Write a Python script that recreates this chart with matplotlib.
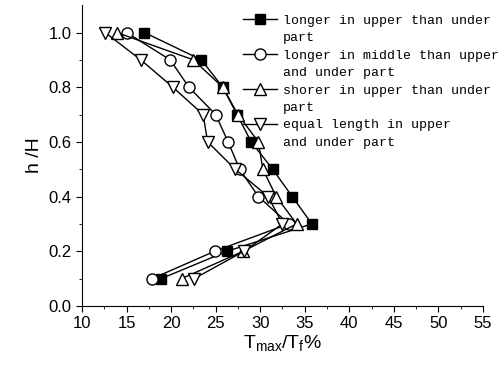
import matplotlib
matplotlib.use("Agg")
import matplotlib.pyplot as plt
from matplotlib.lines import Line2D

# h/H levels and T_max/T_f (%) for each case
h = [1.0, 0.9, 0.8, 0.7, 0.6, 0.5, 0.4, 0.3, 0.2, 0.1]
upper_longer = [17.0, 23.4, 25.8, 27.4, 29.0, 31.4, 33.6, 35.8, 26.3, 18.9]
middle_longer = [15.0, 19.9, 22.0, 25.0, 26.4, 27.7, 29.8, 33.2, 24.9, 17.9]
upper_shorter = [13.9, 22.5, 25.8, 27.5, 29.8, 30.3, 31.8, 34.1, 28.1, 21.2]
equal_length = [12.6, 16.6, 20.2, 23.6, 24.1, 27.2, 30.9, 32.5, 28.2, 22.6]

labels = ["longer in upper than under\npart",
          "longer in middle than upper\nand under part",
          "shorer in upper than under\npart",
          "equal length in upper\nand under part"]

plt.rcParams['font.family'] = ['Liberation Sans', 'DejaVu Sans']
plt.rcParams['mathtext.default'] = 'regular'

fig = plt.figure(figsize=(5.03, 3.69), dpi=100)
ax = fig.add_axes([0.163, 0.171, 0.797, 0.815])

l1, = ax.plot(upper_longer, h, '-s', color='black', mfc='black', ms=7, lw=1)
l2, = ax.plot(middle_longer, h, '-o', color='black', mfc='white', ms=8, lw=1)
l3, = ax.plot(upper_shorter, h, '-^', color='black', mfc='white', ms=8.5, lw=1)
l4, = ax.plot(equal_length, h, '-v', color='black', mfc='white', ms=8.5, lw=1)

ax.set_xlim(10, 55)
ax.set_ylim(0, 1.1)
ax.set_xticks(range(10, 56, 5))
ax.set_xticks([x + 2.5 for x in range(10, 55, 5)], minor=True)
ax.set_yticks([0.0, 0.2, 0.4, 0.6, 0.8, 1.0])
ax.set_yticks([0.1, 0.3, 0.5, 0.7, 0.9], minor=True)
ax.set_yticklabels(['0.0', '0.2', '0.4', '0.6', '0.8', '1.0'])
ax.tick_params(labelsize=12, direction='out', length=4)
ax.tick_params(which='minor', direction='out', length=2.5)
ax.spines['top'].set_visible(False)
ax.spines['right'].set_visible(False)

ax.set_xlabel(r'T$_{max}$/T$_{f}$%', fontsize=14, labelpad=1)
ax.set_ylabel('h /H', fontsize=14, labelpad=4)

# one legend row per text line, marker only on the first line of each entry
blank = Line2D([], [], linestyle='none', marker='none')
handles, texts = [], []
for line, lab in zip([l1, l2, l3, l4], labels):
    rows = lab.split("\n")
    handles.append(line)
    texts.append(rows[0])
    for r in rows[1:]:
        handles.append(blank)
        texts.append(r)

ax.legend(handles, texts, loc='upper left', bbox_to_anchor=(0.483, 0.96),
          bbox_transform=fig.transFigure, frameon=False,
          prop={'family': 'Liberation Mono', 'size': 9.5},
          labelspacing=0.39, handlelength=2.6, handletextpad=0.4,
          borderpad=0.0, borderaxespad=0.0)

fig.savefig("out.png", dpi=100)
